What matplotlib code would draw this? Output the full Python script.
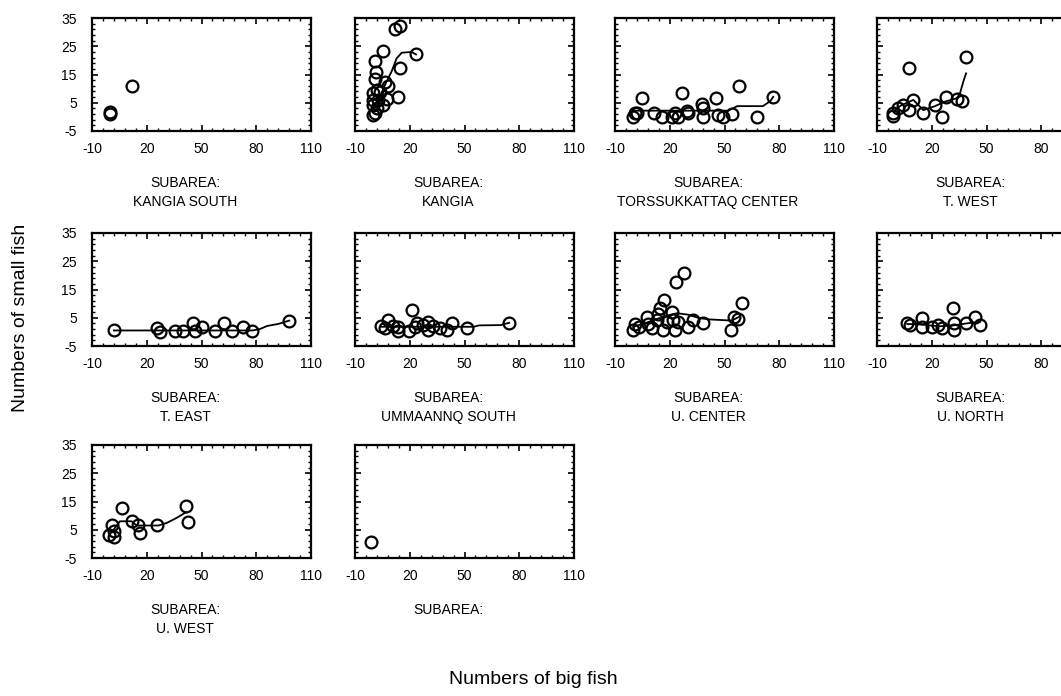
import matplotlib
matplotlib.use('Agg')
import matplotlib.pyplot as plt

# subarea names, in panel order (row by row)
subareas = ['KANGIA SOUTH', 'KANGIA', 'TORSSUKKATTAQ CENTER', 'T. WEST',
            'T. EAST', 'UMMAANNQ SOUTH', 'U. CENTER', 'U. NORTH',
            'U. WEST', '']

x_ticks = [-10, 20, 50, 80, 110]
y_ticks = [-5, 5, 15, 25, 35]

# numbers of big fish (x) / small fish (y) per subarea
kangia_south_big = [0, 0, 12]
kangia_south_small = [1.0, 1.6, 11]

kangia_big = [11.9, 14.7, 5.5, 23.4, 1.0, 14.7, 1.5, 1.0, 6.4, 8.3, 1.9, 0, 3.7,
              13.7, 0, 2.8, 7.4, 0, 5.5, 0, 1.0, 1.9]
kangia_small = [31, 32.2, 23.4, 22.1, 19.8, 17.2, 16, 13.4, 12.5, 11, 9.5, 8.3, 8.9,
                7.1, 6, 6, 6.2, 4.2, 4.2, 0.7, 1.3, 3]

torss_big = [0, 1.0, 1.9, 4.6, 11.4, 15.6, 21.1, 22.9, 24.7, 26.5, 29.3, 30.2, 37.5,
             38, 38, 45.3, 46.6, 49, 53.9, 58.1, 68, 76.7]
torss_small = [0, 1.3, 1.5, 6.6, 1.5, 0, 0, 1.3, 0, 8.6, 2.2, 1.3, 4.6,
               3, 0, 6.6, 0.7, 0, 1, 10.9, 0, 7.1]

twest_big = [-1, -1, 1.7, 7.8, 7.8, 4.4, 9.9, 15.4, 21.8, 25.5, 27.8, 33.7, 36.8, 38.8]
twest_small = [1.3, 0.3, 3, 17.2, 2.4, 4.2, 6, 1.3, 4.2, 0, 7.1, 6.3, 5.7, 21.3]

teast_big = [2, 25.4, 27.3, 35.5, 39.7, 45.5, 46.5, 50.1, 57.4, 62.3, 66.5, 72.9, 77.5, 98.1]
teast_small = [0.5, 1.3, 0.1, 0.4, 0.4, 3.2, 0.4, 1.6, 0.4, 3.2, 0.3, 1.8, 0.3, 4]

usouth_big = [4.1, 6.4, 8.2, 11, 13.7, 13.7, 19.8, 21, 22.9, 24.1, 27.4, 29.8, 30.2,
              32.5, 36.6, 40.6, 43.3, 51.5, 74.5]
usouth_small = [2.1, 1.3, 4.2, 2.1, 1.6, 0.2, 0.4, 7.7, 1.6, 3, 2.4, 3.6, 0.7,
                2.1, 1.3, 0.7, 3.2, 1.3, 3.2]

ucenter_big = [0, 1, 3.4, 7.7, 8.3, 10.1, 12.8, 13.7, 14.7, 16.8, 16.5, 18.3, 21.1, 22,
               22.9, 23.4, 24.7, 27.8, 30.2, 33, 38.4, 53.4, 55.2, 57.6, 59.4]
ucenter_small = [0.7, 2.8, 1.7, 5.4, 2.8, 1.3, 4.2, 6.2, 8.3, 11.3, 0.7, 3.6, 7.1, 4.2,
                 0.7, 17.8, 3.6, 20.9, 1.8, 4.2, 3.2, 0.7, 5.4, 4.6, 10.3]

unorth_big = [6.6, 8, 14.5, 14.5, 20, 23.6, 25.5, 31.8, 32.2, 32.4, 38.8, 43.7, 46.4]
unorth_small = [3, 2.6, 4.8, 1.6, 1.8, 2.4, 1.3, 8.3, 3, 0.7, 3, 5.4, 2.4]

uwest_big = [-0.5, 2.05, 0.8, 2, 6.3, 11.7, 15.4, 16.3, 25.4, 41.3, 42.4]
uwest_small = [3.2, 2.4, 6.8, 4.4, 12.7, 8, 6.8, 4, 6.8, 13.3, 7.75]

blank_big = [-1]
blank_small = [0.5]

# smoothed fit lines
kangia_fit_x = [0, 3.7, 6.4, 10, 12.8, 15.6, 21, 23.4]
kangia_fit_y = [3.6, 7.1, 11.3, 16, 20.7, 22.7, 23, 22.1]
torss_fit_x = [0, 52, 57, 71, 75, 76.7]
torss_fit_y = [2.2, 2.2, 3.8, 3.8, 5.5, 7.1]
twest_fit_x = [-1, 3, 9.9, 15.4, 21.8, 27.3, 33.7, 35.5, 37.3, 38.8]
twest_fit_y = [1.9, 4.0, 6.0, 2.4, 3.8, 5.4, 6.6, 8.4, 12.5, 15.4]
teast_fit_x = [2, 78, 82, 86, 92, 98.1]
teast_fit_y = [0.5, 0.5, 1.0, 2.1, 2.8, 4.0]
usouth_fit_x = [4.1, 55, 58, 70, 72, 74.5]
usouth_fit_y = [1.8, 1.8, 2.3, 2.4, 2.8, 3.2]
ucenter_fit_x = [0, 7, 14, 20, 24, 30, 36, 42, 48, 54, 57.6]
ucenter_fit_y = [1.8, 3.2, 4.8, 6.0, 6.6, 6.1, 4.9, 4.4, 4.2, 4.0, 5.2]
unorth_fit_x = [6.6, 15, 20, 25, 32, 38, 44, 46.4]
unorth_fit_y = [2.8, 2.6, 2.2, 2.0, 2.3, 2.9, 3.4, 3.6]
uwest_fit_x = [1.1, 5.3, 11.7, 14.5, 26.4, 30.9, 36.4, 41.5]
uwest_fit_y = [4.4, 8, 8, 6.5, 6.5, 7.4, 9.2, 11.2]

panels = [
    (kangia_south_big, kangia_south_small, None, None),
    (kangia_big, kangia_small, kangia_fit_x, kangia_fit_y),
    (torss_big, torss_small, torss_fit_x, torss_fit_y),
    (twest_big, twest_small, twest_fit_x, twest_fit_y),
    (teast_big, teast_small, teast_fit_x, teast_fit_y),
    (usouth_big, usouth_small, usouth_fit_x, usouth_fit_y),
    (ucenter_big, ucenter_small, ucenter_fit_x, ucenter_fit_y),
    (unorth_big, unorth_small, unorth_fit_x, unorth_fit_y),
    (uwest_big, uwest_small, uwest_fit_x, uwest_fit_y),
    (blank_big, blank_small, None, None),
]

plt.rcParams['font.family'] = ['Liberation Sans Narrow', 'Liberation Sans', 'DejaVu Sans']
plt.rcParams['axes.unicode_minus'] = False
plt.rcParams['xtick.direction'] = 'in'
plt.rcParams['ytick.direction'] = 'in'

W, H = 1061, 696
fig = plt.figure(figsize=(W / 100, H / 100), dpi=100)

col_left = [92, 355, 615, 877]
row_bottom = [131, 346, 558]
aw, ah = 219, 113

for i, (bx, sy, fx, fy) in enumerate(panels):
    r, c = divmod(i, 4)
    ax = fig.add_axes([col_left[c] / W, 1 - row_bottom[r] / H, aw / W, ah / H])
    if fx is not None:
        ax.plot(fx, fy, color='black', lw=1.3, zorder=2)
    ax.plot(bx, sy, 'o', mfc='none', mec='black', ms=8.5, mew=1.6, zorder=3)
    ax.set_xlim(-10, 110)
    ax.set_ylim(-5, 35)
    ax.set_xticks(x_ticks)
    ax.set_yticks(y_ticks)
    ax.set_xticks([-10 + 6 * k for k in range(21)], minor=True)
    ax.set_yticks([-5 + 2 * k for k in range(21)], minor=True)
    ax.tick_params(which='both', top=True, right=True)
    ax.tick_params(which='major', length=4, width=1.2, labelsize=10)
    ax.tick_params(which='minor', length=2, width=1.0)
    ax.tick_params(axis='x', pad=8)
    ax.tick_params(axis='y', pad=11)
    if c != 0:
        ax.set_yticklabels([])
    if c == 3:
        # the last column runs off the right edge of the picture
        ax.set_xticklabels([str(t) for t in x_ticks[:-1]] + [''])
    for s in ax.spines.values():
        s.set_linewidth(1.6)
    ax.text(0.425, -0.46, 'SUBAREA:', transform=ax.transAxes,
            ha='center', va='center', fontsize=10)
    ax.text(0.425, -0.63, subareas[i], transform=ax.transAxes,
            ha='center', va='center', fontsize=10)

fig.text(21 / W, 1 - 318 / H, 'Numbers of small fish', rotation=90,
         ha='center', va='center', fontsize=14, family=['Liberation Sans', 'DejaVu Sans'])
fig.text(533 / W, 1 - 680 / H, 'Numbers of big fish',
         ha='center', va='center', fontsize=14, family=['Liberation Sans', 'DejaVu Sans'])

fig.savefig('out.png', dpi=100)
